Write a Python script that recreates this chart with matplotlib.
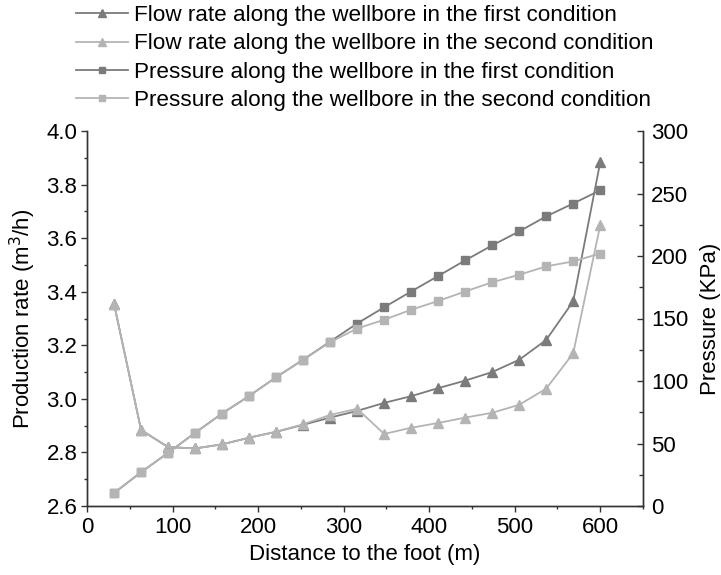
import numpy as np
import matplotlib
matplotlib.use("Agg")
import matplotlib.pyplot as plt
from matplotlib.ticker import MultipleLocator

plt.rcParams['font.family'] = ['Liberation Sans', 'DejaVu Sans']
plt.rcParams['font.size'] = 16

# distance to the foot (m)
distance = [31.6, 63.2, 94.7, 126.3, 157.9, 189.5, 221.1, 252.6, 284.2, 315.8,
            347.4, 378.9, 410.5, 442.1, 473.7, 505.3, 536.8, 568.4, 600.0]

# production rate (m3/h)
flow_first = [3.355, 2.884, 2.82, 2.815, 2.83, 2.855, 2.877, 2.903, 2.93, 2.955,
              2.985, 3.01, 3.04, 3.068, 3.10, 3.146, 3.22, 3.364, 3.884]
flow_second = [3.355, 2.884, 2.82, 2.815, 2.83, 2.855, 2.877, 2.905, 2.94, 2.963,
               2.869, 2.892, 2.91, 2.93, 2.948, 2.978, 3.038, 3.17, 3.648]

# pressure (KPa)
pres_first = [10.4, 27, 42.5, 58.5, 74, 88, 103, 117, 131.5, 146,
              159, 171.6, 184, 196.5, 208.5, 219.7, 231.7, 242, 252.6]
pres_second = [10.4, 27, 42.5, 58.5, 74, 88, 103, 117, 131, 142,
               149, 157, 164, 171.6, 179, 185, 191.7, 195.7, 202]

labels = ["Flow rate along the wellbore in the first condition",
          "Flow rate along the wellbore in the second condition",
          "Pressure along the wellbore in the first condition",
          "Pressure along the wellbore in the second condition"]

dark = '#7b7b7b'
light = '#b4b4b4'
spine_col = '#333333'

fig = plt.figure(figsize=(7.21, 5.75), dpi=100)
ax = fig.add_axes([87 / 721, 1 - 506 / 575, (643 - 87) / 721, (506 - 131) / 575])
ax2 = ax.twinx()

l1, = ax.plot(distance, flow_first, color=dark, marker='^', markersize=7, lw=1.3)
l2, = ax.plot(distance, flow_second, color=light, marker='^', markersize=7, lw=1.3)
l3, = ax2.plot(distance, pres_first, color=dark, marker='s', markersize=6, lw=1.3)
l4, = ax2.plot(distance, pres_second, color=light, marker='s', markersize=6, lw=1.3)

ax.set_xlim(0, 650)
ax.set_ylim(2.6, 4.0)
ax2.set_ylim(0, 300)

ax.xaxis.set_major_locator(MultipleLocator(100))
ax.xaxis.set_minor_locator(MultipleLocator(50))
ax.yaxis.set_major_locator(MultipleLocator(0.2))
ax.yaxis.set_minor_locator(MultipleLocator(0.1))
ax.yaxis.set_major_formatter(plt.FormatStrFormatter('%.1f'))
ax2.yaxis.set_major_locator(MultipleLocator(50))
ax2.yaxis.set_minor_locator(MultipleLocator(25))

for a in (ax, ax2):
    a.spines['top'].set_visible(False)
    for s in a.spines.values():
        s.set_color(spine_col)
        s.set_linewidth(1.0)

ax.tick_params(which='major', direction='out', length=4, width=1, color=spine_col)
ax.tick_params(which='minor', direction='out', length=2.5, width=1, color=spine_col)
ax.tick_params(axis='x', pad=4)
ax.tick_params(axis='y', pad=3)
ax2.tick_params(which='major', direction='in', length=4.5, width=1, color=spine_col, pad=6)
ax2.tick_params(which='minor', direction='in', length=3, width=1, color=spine_col)

ax.set_xlabel("Distance to the foot (m)", labelpad=4)
ax.set_ylabel("Production rate (m$^3$/h)", labelpad=6)
ax2.set_ylabel("Pressure (KPa)", labelpad=8)

fig.legend([l1, l2, l3, l4], labels, loc='upper left',
           bbox_to_anchor=(76 / 721, 1 - 5 / 575), frameon=False,
           borderpad=0, borderaxespad=0, handlelength=2.3, handletextpad=0.3,
           labelspacing=0.33, markerscale=0.75, fontsize=16.2)

fig.savefig("out.png", dpi=100)
